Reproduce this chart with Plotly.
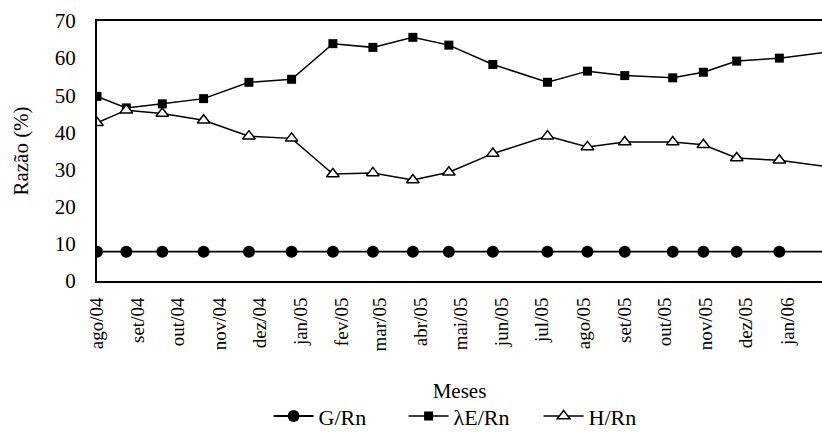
import plotly.graph_objects as go

dates = ["2004-08-01", "2004-08-23", "2004-09-19", "2004-10-20", "2004-11-23",
         "2004-12-25", "2005-01-25", "2005-02-24", "2005-03-26", "2005-04-22",
         "2005-05-25", "2005-07-05", "2005-08-04", "2005-09-01", "2005-10-07",
         "2005-10-30", "2005-11-24", "2005-12-26", "2006-02-03"]
g_rn = [7.9] * 19
le_rn = [49.7, 46.6, 47.7, 49.1, 53.5, 54.3, 63.9, 62.9, 65.6, 63.5,
         58.3, 53.5, 56.5, 55.3, 54.7, 56.2, 59.2, 60.0, 61.8]
h_rn = [42.6, 46.0, 45.1, 43.3, 39.0, 38.4, 28.8, 29.1, 27.2, 29.3,
        34.3, 39.0, 36.1, 37.4, 37.4, 36.7, 33.1, 32.5, 30.6]

tick_vals = ["2004-08-01", "2004-09-01", "2004-10-01", "2004-11-01", "2004-12-01",
             "2005-01-01", "2005-02-01", "2005-03-01", "2005-04-01", "2005-05-01",
             "2005-06-01", "2005-07-01", "2005-08-01", "2005-09-01", "2005-10-01",
             "2005-11-01", "2005-12-01", "2006-01-01"]
tick_text = ["ago/04", "set/04", "out/04", "nov/04", "dez/04", "jan/05", "fev/05",
             "mar/05", "abr/05", "mai/05", "jun/05", "jul/05", "ago/05", "set/05",
             "out/05", "nov/05", "dez/05", "jan/06"]

FONT = "Liberation Serif"

fig = go.Figure()
fig.add_trace(go.Scatter(x=dates, y=g_rn, name="G/Rn", mode="lines+markers",
                         line=dict(color="black", width=1.8),
                         marker=dict(symbol="circle", size=12, color="black")))
fig.add_trace(go.Scatter(x=dates, y=le_rn, name="λE/Rn", mode="lines+markers",
                         line=dict(color="black", width=1.5),
                         marker=dict(symbol="square", size=9, color="black")))
fig.add_trace(go.Scatter(x=dates, y=h_rn, name="H/Rn", mode="lines+markers",
                         line=dict(color="black", width=1.5),
                         marker=dict(symbol="triangle-up", size=11, color="white",
                                     line=dict(color="black", width=1.5))))

fig.update_layout(
    width=822, height=433,
    margin=dict(l=97, r=0, t=21, b=152, autoexpand=False),
    paper_bgcolor="white", plot_bgcolor="white",
    font=dict(family=FONT, size=21, color="black"),
    showlegend=True,
    legend=dict(orientation="h", x=0.516, xanchor="center", y=-0.52, yanchor="middle",
                font=dict(family=FONT, size=22, color="black"),
                itemwidth=40, tracegroupgap=0,
                entrywidth=80, entrywidthmode="pixels"),
    xaxis=dict(type="date", range=["2004-08-01", "2006-01-27"],
               tickvals=tick_vals, ticktext=tick_text, tickangle=-90,
               showgrid=False, zeroline=False, showline=True, mirror=True,
               linecolor="black", linewidth=2, ticks="", automargin=False,
               ticklabelstandoff=7,
               tickfont=dict(family=FONT, size=19, color="black"),
               title=dict(text="Meses", standoff=33,
                          font=dict(family=FONT, size=21, color="black"))),
    yaxis=dict(range=[0, 70], dtick=10, tick0=0, automargin=False,
               showgrid=False, zeroline=False, showline=True, mirror=False,
               linecolor="black", linewidth=2, ticks="",
               ticklabelstandoff=15,
               tickfont=dict(family=FONT, size=21, color="black"),
               title=dict(text="Razão (%)", standoff=20,
                          font=dict(family=FONT, size=21, color="black"))),
)

fig.write_html("out.html", config={"displayModeBar": False},
               post_script="document.body.style.margin='0';")
